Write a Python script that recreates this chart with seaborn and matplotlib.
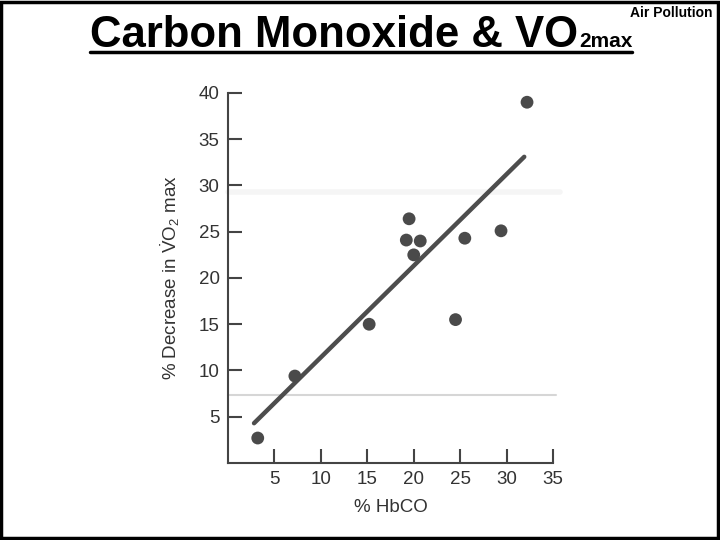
import numpy as np
import pandas as pd
import matplotlib
matplotlib.use('Agg')
import matplotlib.pyplot as plt
from matplotlib.lines import Line2D
from matplotlib.patches import Rectangle
import seaborn as sns

# values
hbco = [3.2, 7.2, 15.2, 19.2, 19.5, 20.0, 20.7, 24.5, 25.5, 29.4, 32.2]
vo2_decrease = [2.7, 9.4, 15.0, 24.1, 26.4, 22.5, 24.0, 15.5, 24.3, 25.1, 39.0]

# fitted line as drawn in the figure (end points)
fit_x = [2.8, 31.9]
fit_y = [4.3, 33.1]

# faint scan lines in the original image
scan_levels = [7.3, 29.3]

x_ticks = [5, 10, 15, 20, 25, 30, 35]
y_ticks = [5, 10, 15, 20, 25, 30, 35, 40]

sns.set_theme(style='white')
plt.rcParams['font.family'] = ['Liberation Sans', 'DejaVu Sans']
plt.rcParams['mathtext.fontset'] = 'custom'
plt.rcParams['mathtext.rm'] = 'Liberation Sans'
plt.rcParams['mathtext.it'] = 'Liberation Sans:italic'

pts = pd.DataFrame({'hbco': hbco, 'vo2': vo2_decrease})
fit = pd.DataFrame({'x': fit_x, 'y': fit_y})

fig = plt.figure(figsize=(7.2, 5.4), dpi=100)
ax = fig.add_axes([0.3167, 0.1426, 0.4514, 0.6852])

ax.axhline(scan_levels[0], xmin=0, xmax=1.01, color='#d6d6d6', lw=1.5, clip_on=False, zorder=0)
ax.axhline(scan_levels[1], xmin=0, xmax=1.02, color='#f5f5f5', lw=4, clip_on=False, zorder=0)

sns.lineplot(data=fit, x='x', y='y', ax=ax, color='#4d4d4d', lw=3.2, zorder=2)
sns.scatterplot(data=pts, x='hbco', y='vo2', ax=ax, color='#4a4a4a', s=85,
                edgecolor='none', zorder=3, clip_on=False)

ax.set_xlim(0, 35)
ax.set_ylim(0, 40)
ax.set_xticks(x_ticks)
ax.set_yticks(y_ticks)
ax.tick_params(direction='in', length=10, width=1.5, color='#444444',
               labelsize=13.5, labelcolor='#333333', pad=6,
               left=True, bottom=True)
for side in ['top', 'right']:
    ax.spines[side].set_visible(False)
for side in ['left', 'bottom']:
    ax.spines[side].set_color('#444444')
    ax.spines[side].set_linewidth(1.5)

ax.set_xlabel('% HbCO', fontsize=13.5, color='#333333', labelpad=8)
ax.set_ylabel(r'% Decrease in $\dot{\mathrm{V}}\mathrm{O}_2$ max', fontsize=13.5,
              color='#333333', labelpad=12)

# slide title, subscript placed right after the main text
main = fig.text(0.125, 0.913, 'Carbon Monoxide & VO', fontsize=31.5, fontweight='bold',
                color='black', ha='left', va='baseline')
fig.canvas.draw()
bb = main.get_window_extent().transformed(fig.transFigure.inverted())
fig.text(bb.x1 + 0.001, 0.913, '2max', fontsize=15, fontweight='bold', color='black',
         ha='left', va='baseline')
fig.add_artist(Line2D([0.125, 0.878], [0.903, 0.903], color='black', lw=2.5,
                      transform=fig.transFigure))
fig.text(0.99, 0.968, 'Air Pollution', fontsize=10, fontweight='bold',
         color='black', ha='right', va='baseline')

# slide frame
fig.add_artist(Rectangle((0.002, 0.003), 0.995, 0.994, fill=False,
                         edgecolor='black', lw=2.5, transform=fig.transFigure))

fig.savefig('out.png', dpi=100)
